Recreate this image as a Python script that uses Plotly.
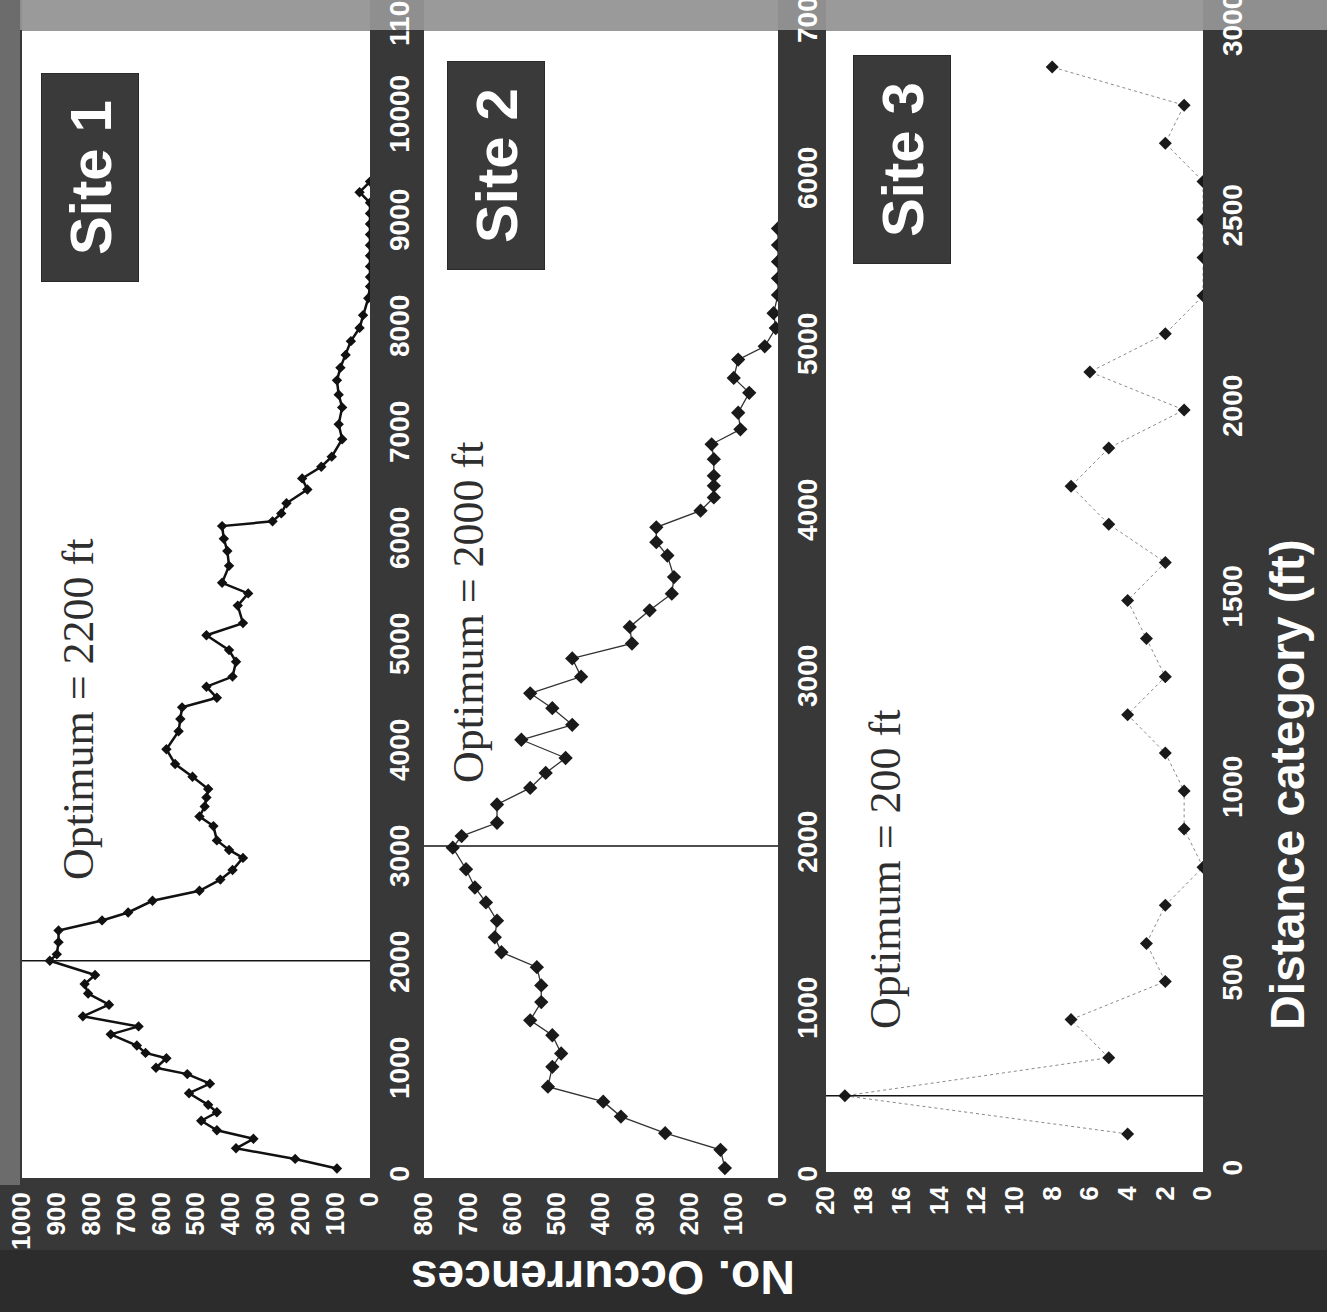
import plotly.graph_objects as go

W, H = 1327, 1312

# ---------------- data ----------------
site1_dist = [90, 180, 280, 370, 450, 540, 620, 690, 800, 890,
              980, 1040, 1130, 1180, 1250, 1355, 1430, 1525, 1635, 1740,
              1830, 1915, 2050, 2110, 2225, 2335, 2430, 2505, 2615, 2710,
              2815, 2905, 3020, 3095, 3185, 3320, 3410, 3505, 3590, 3670,
              3785, 3905, 4045, 4215, 4330, 4440, 4530, 4635, 4730, 4870,
              4980, 5120, 5235, 5400, 5515, 5615, 5775, 5915, 6030, 6150,
              6195, 6270, 6365, 6495, 6600, 6710, 6805, 6970, 7110, 7270,
              7390, 7525, 7645, 7765, 7895, 8020, 8140, 8300, 8410, 8500,
              8600, 8700, 8800, 8900, 9000, 9100, 9200, 9300, 9400]
site1_count = [95, 215, 385, 335, 440, 485, 440, 465, 520, 460,
               525, 615, 585, 645, 670, 745, 665, 825, 750, 810,
               820, 790, 920, 900, 895, 895, 770, 695, 625, 490,
               430, 395, 365, 405, 440, 450, 490, 475, 470, 465,
               510, 560, 585, 550, 545, 540, 440, 470, 395, 385,
               405, 470, 365, 380, 350, 425, 405, 410, 420, 425,
               280, 255, 240, 180, 195, 140, 110, 80, 90, 80,
               90, 95, 85, 70, 55, 30, 20, 5, 0, 0,
               0, 0, 0, 0, 0, 0, 0, 30, 0]

site2_dist = [60, 170, 270, 370, 460, 550, 670, 750, 860, 950,
              1060, 1160, 1270, 1360, 1450, 1550, 1660, 1750, 1860, 1990,
              2060, 2140, 2250, 2350, 2440, 2530, 2640, 2730, 2830, 2920,
              3020, 3130, 3220, 3320, 3420, 3520, 3620, 3750, 3830, 3920,
              4020, 4100, 4170, 4230, 4330, 4420, 4510, 4610, 4730, 4820,
              4930, 5010, 5120, 5210, 5320, 5420, 5520, 5620, 5720]
site2_count = [120, 130, 255, 355, 395, 520, 510, 490, 510, 560,
               535, 535, 545, 625, 640, 635, 660, 685, 705, 735,
               715, 635, 635, 560, 525, 480, 580, 465, 510, 560,
               445, 465, 330, 335, 290, 240, 235, 250, 275, 275,
               175, 145, 145, 145, 145, 150, 85, 90, 65, 100,
               90, 30, 5, 10, 0, 0, 0, 0, 0]

site3_dist = [100, 200, 300, 400, 500, 600, 700, 800, 900, 1000,
              1100, 1200, 1300, 1400, 1500, 1600, 1700, 1800, 1900, 2000,
              2100, 2200, 2300, 2400, 2500, 2600, 2700, 2800, 2900]
site3_count = [4, 19, 5, 7, 2, 3, 2, 0, 1, 1,
               2, 4, 2, 3, 4, 2, 5, 7, 5, 1,
               6, 2, 0, 0, 0, 0, 2, 1, 8]

site_names = ["Site 1", "Site 2", "Site 3"]
optimum_values = [2050, 2000, 200]
optimum_labels = ["Optimum = 2200 ft", "Optimum = 2000 ft", "Optimum = 200 ft"]

dist_ticks_1 = list(range(0, 11001, 1000))
dist_ticks_2 = list(range(0, 7001, 1000))
dist_ticks_3 = list(range(0, 3001, 500))
count_ticks_1 = list(range(0, 1001, 100))
count_ticks_2 = list(range(0, 801, 100))
count_ticks_3 = list(range(0, 21, 2))

dist_max = [11000, 7000, 3000]
count_max = [1000, 800, 20]

# ---------------- layout helpers ----------------
def px(x):
    return x / W


def py(y):
    return 1 - y / H


# panel geometry in pixels: left, right, bottom, top
panels = [
    (22, 370, 1178, 12),
    (424, 778, 1178, 16),
    (826, 1203, 1172, 29),
]

TICK_FONT = dict(family="Liberation Sans, Arial, sans-serif", color="white", weight="bold")

fig = go.Figure()

series = [
    (site1_count, site1_dist, dict(color="#111111", width=2.5), dict(symbol="diamond", size=8, color="#111111")),
    (site2_count, site2_dist, dict(color="#333333", width=1.3), dict(symbol="diamond", size=11, color="#1a1a1a")),
    (site3_count, site3_dist, dict(color="#8a8a8a", width=1, dash="dot"), dict(symbol="diamond", size=10, color="#1a1a1a")),
]
for i, (cx, dy, ln, mk) in enumerate(series):
    sfx = "" if i == 0 else str(i + 1)
    fig.add_trace(go.Scatter(
        x=cx, y=dy, mode="lines+markers", line=ln, marker=mk,
        xaxis="x" + sfx, yaxis="y" + sfx, showlegend=False, hoverinfo="x+y",
    ))

dist_ticks = [dist_ticks_1, dist_ticks_2, dist_ticks_3]
count_ticks = [count_ticks_1, count_ticks_2, count_ticks_3]

layout = dict(
    width=W, height=H, autosize=False,
    margin=dict(l=0, r=0, t=0, b=0, pad=0),
    paper_bgcolor="#383838",
    plot_bgcolor="white",
    showlegend=False,
)

shapes = []
annotations = []
for i, (x0, x1, yb, yt) in enumerate(panels):
    sfx = "" if i == 0 else str(i + 1)
    layout["xaxis" + sfx] = dict(
        domain=[px(x0), px(x1)], range=[count_max[i], 0], anchor="y" + sfx,
        side="bottom", tickmode="array", tickvals=count_ticks[i], tickformat="d",
        tickangle=-90, tickfont=dict(size=26, **TICK_FONT),
        showgrid=False, zeroline=False, showline=False, ticks="",
        ticklabelstandoff=8, fixedrange=True, automargin=False,
        ticklabeloverflow="allow",
    )
    layout["yaxis" + sfx] = dict(
        domain=[py(yb), py(yt)], range=[0, dist_max[i]], anchor="x" + sfx,
        side="right", tickmode="array", tickvals=dist_ticks[i], tickformat="d",
        tickangle=-90, tickfont=dict(size=28, **TICK_FONT),
        showgrid=False, zeroline=False, showline=False, ticks="",
        ticklabelstandoff=10, fixedrange=True, automargin=False,
        ticklabeloverflow="allow",
    )
    # optimum line across the panel
    shapes.append(dict(
        type="line", xref="x" + sfx + " domain", x0=0, x1=1,
        yref="y" + sfx, y0=optimum_values[i], y1=optimum_values[i],
        line=dict(color="#151515", width=1.6), layer="above",
    ))
    # scanned grey edge across the top of each panel
    shapes.append(dict(
        type="rect", xref="paper", yref="paper",
        x0=px(x0), x1=px(x1), y0=py(31), y1=1,
        fillcolor="#9a9a9a", line=dict(width=0), layer="above",
    ))

# backdrop strips of the scan
shapes.append(dict(type="rect", xref="paper", yref="paper", x0=0, x1=1, y0=py(30), y1=1,
                   fillcolor="#8f8f8f", line=dict(width=0), layer="below"))
shapes.append(dict(type="rect", xref="paper", yref="paper", x0=0, x1=px(20), y0=py(1185), y1=1,
                   fillcolor="#6c6c6c", line=dict(width=0), layer="below"))
shapes.append(dict(type="rect", xref="paper", yref="paper", x0=0, x1=1, y0=0, y1=py(1250),
                   fillcolor="#2c2c2c", line=dict(width=0), layer="below"))

# site badges
badge_centers = [(90, 178), (496, 166), (902, 159)]
for name, (cx, cy) in zip(site_names, badge_centers):
    annotations.append(dict(
        text=name, xref="paper", yref="paper", x=px(cx), y=py(cy),
        showarrow=False, textangle=-90, width=205, height=94,
        bgcolor="#3a3a3a", bordercolor="#2a2a2a", borderwidth=1,
        font=dict(family="Liberation Sans, Arial, sans-serif", size=58, color="white", weight="bold"),
        xanchor="center", yanchor="middle",
    ))

# optimum texts
opt_centers = [(78, 710), (468, 613), (885, 870)]
for txt, (cx, cy) in zip(optimum_labels, opt_centers):
    annotations.append(dict(
        text=txt, xref="paper", yref="paper", x=px(cx), y=py(cy),
        showarrow=False, textangle=-90,
        font=dict(family="Liberation Serif, Times New Roman, serif", size=44, color="#2e2e2e"),
        xanchor="center", yanchor="middle",
    ))

# axis titles
annotations.append(dict(
    text="Distance category (ft)", xref="paper", yref="paper", x=px(1288), y=py(785),
    showarrow=False, textangle=-90,
    font=dict(family="Liberation Sans, Arial, sans-serif", size=48, color="white", weight="bold"),
    xanchor="center", yanchor="middle",
))
annotations.append(dict(
    text="No. Occurrences", xref="paper", yref="paper", x=px(603), y=py(1278),
    showarrow=False, textangle=180,
    font=dict(family="Liberation Sans, Arial, sans-serif", size=48, color="white", weight="bold"),
    xanchor="center", yanchor="middle",
))

layout["shapes"] = shapes
layout["annotations"] = annotations
fig.update_layout(**layout)

fig.write_html(
    "out.html",
    config={"responsive": False, "displayModeBar": False},
    post_script="document.body.style.margin='0';document.body.style.overflow='hidden';"
                "document.documentElement.style.overflow='hidden';",
)
